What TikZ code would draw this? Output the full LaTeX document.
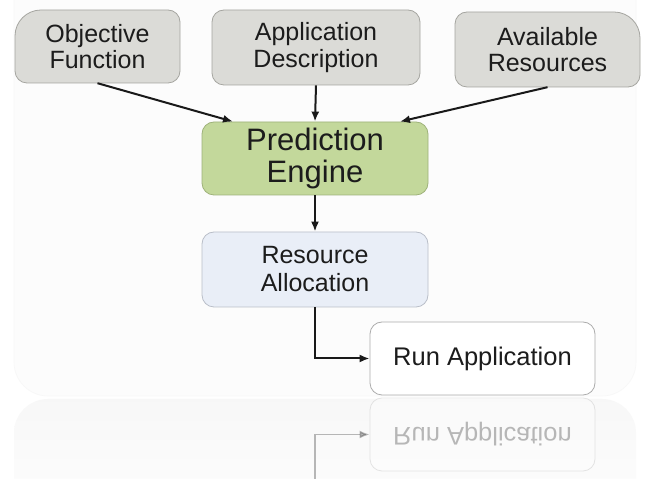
\documentclass[tikz,border=0pt]{standalone}
\usepackage{fontspec}
\setmainfont{Liberation Sans}
\usetikzlibrary{arrows.meta}

\definecolor{topfill}{RGB}{219,219,215}
\definecolor{topline}{RGB}{165,165,160}
\definecolor{predfill}{RGB}{195,216,155}
\definecolor{predline}{RGB}{158,178,122}
\definecolor{resfill}{RGB}{233,238,247}
\definecolor{resline}{RGB}{185,190,200}
\definecolor{runline}{RGB}{172,172,172}
\definecolor{txt}{RGB}{28,28,28}

\tikzset{
  box/.style={rounded corners=12pt, line width=0.8pt, align=center,
    text=txt, inner sep=0pt},
  topfont/.style={font=\fontsize{25}{26.5}\selectfont},
  topshape/.style={fill=topfill, draw=topline, line width=0.8pt},
  topbox/.style={box, topshape, topfont},
  toptext/.style={align=center, text=txt, inner sep=0pt, topfont},
  predbox/.style={box, fill=predfill, draw=predline,
    font=\fontsize{31}{32}\selectfont},
  resbox/.style={box, fill=resfill, draw=resline,
    font=\fontsize{25}{28}\selectfont},
  runbox/.style={box, fill=white, draw=runline,
    font=\fontsize{25.5}{27}\selectfont},
  flow/.style={line width=2pt, draw=black!90,
    -{Latex[length=10pt,width=8pt]}},
}

\begin{document}
\begin{tikzpicture}[x=1pt,y=1pt]
\useasboundingbox (0,0) rectangle (646,479);
\fill[white] (0,0) rectangle (646,479);

% faint backdrop panel and its mirrored band
\begin{scope}
  \clip (0,0) rectangle (646,479);
  \draw[rounded corners=34pt, fill=black!1, draw=black!3, line width=0.6pt]
    (14,560) -- (14,83) -- (636,83) -- (636,560);
  \shade[rounded corners=34pt, top color=black!3, bottom color=black!0.5]
    (14,-40) -- (14,80) -- (636,80) -- (636,-40) -- cycle;
\end{scope}

% input boxes (outer corners drawn with a wider radius)
\path[topshape]
  (27,396) -- (168,396) arc[start angle=-90,end angle=0,radius=12pt]
  -- (180,457) arc[start angle=0,end angle=90,radius=12pt]
  -- (41,469) arc[start angle=90,end angle=180,radius=26pt]
  -- (15,408) arc[start angle=180,end angle=270,radius=12pt] -- cycle;
\node[toptext, minimum width=165pt, minimum height=73pt] (obj)
  at (97.5,432.5) {Objective\\Function};

\node[topbox, minimum width=208pt, minimum height=75pt] (app)
  at (316,431.5) {Application\\Description};

\path[topshape]
  (467,392) -- (628,392) arc[start angle=-90,end angle=0,radius=12pt]
  -- (640,441) arc[start angle=0,end angle=90,radius=26pt]
  -- (467,467) arc[start angle=90,end angle=180,radius=12pt]
  -- (455,404) arc[start angle=180,end angle=270,radius=12pt] -- cycle;
\node[toptext, minimum width=185pt, minimum height=75pt] (avail)
  at (547.5,429.5) {Available\\Resources};

% processing chain
\node[predbox, minimum width=226pt, minimum height=73pt] (pred)
  at (315,320.5) {Prediction\\Engine};
\node[resbox, minimum width=226pt, minimum height=75pt] (res)
  at (315,209.5) {Resource\\Allocation};
\node[runbox, minimum width=225pt, minimum height=73pt] (run)
  at (482.5,120.5) {Run Application};

% connectors
\draw[flow] (obj.south) -- ([xshift=-82pt]pred.north);
\draw[flow] (app.south) -- (pred.north);
\draw[flow] (avail.south) -- ([xshift=85pt]pred.north);
\draw[flow] (pred.south) -- (res.north);
\draw[flow] (res.south) |- (run.west);

% mirrored copy of the last step
\begin{scope}[opacity=0.3]
  \node[runbox, minimum width=225pt, minimum height=73pt, yscale=-1]
    (runmirror) at (482.5,44.5) {Run Application};
  \coordinate (mirrorfoot) at (315,0);
  \draw[flow, line width=1.6pt] (mirrorfoot) |- (runmirror.west);
\end{scope}
\end{tikzpicture}
\end{document}
